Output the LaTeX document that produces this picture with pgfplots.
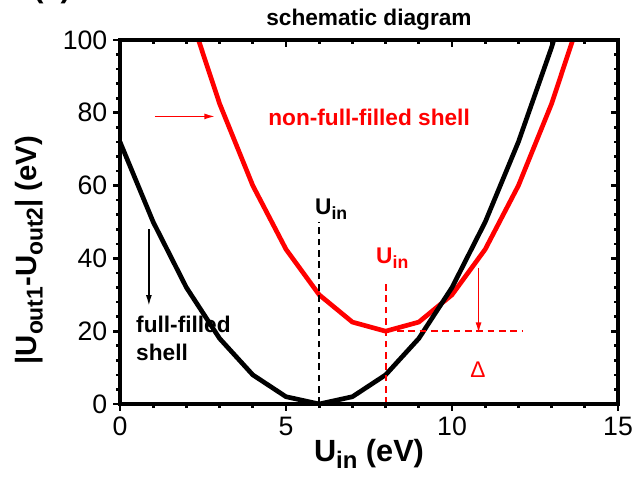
\documentclass[border=0pt]{standalone}
\usepackage{fontspec}
\setmainfont{Liberation Sans}
\usepackage{graphicx}
\usepackage{pgfplots}
\pgfplotsset{compat=1.18}
\usetikzlibrary{calc,arrows.meta}
\definecolor{myred}{RGB}{255,0,0}
\newcommand{\sub}[1]{\raisebox{-0.42ex}{\scalebox{0.78}{#1}}}
\begin{document}
\begin{tikzpicture}
\pgfplotsset{
  common/.style={
    width=373.5pt, height=273pt, scale only axis,
    xmin=0, xmax=15, ymin=0, ymax=100,
    xtick={0,5,10,15}, ytick={0,20,40,60,80,100},
    minor x tick num=4, minor y tick num=4,
    axis line style={line width=3pt},
    major tick length=5pt, minor tick length=3pt,
    every tick/.style={black, line width=2pt},
  }
}
\begin{axis}[common, name=ax, tick align=outside, xtick pos=bottom, ytick pos=left,
  ticklabel style={font=\fontsize{20}{24}\selectfont},
  /pgf/number format/assume math mode=true,
  xticklabel style={yshift=-1pt},
  yticklabel style={xshift=-1pt},
  xlabel={\bfseries U\sub{in} (eV)},
  ylabel={\bfseries |U\sub{out1}-U\sub{out2}| (eV)},
  xlabel style={font=\fontsize{23}{27}\selectfont, yshift=4pt},
  ylabel style={font=\fontsize{22}{26}\selectfont, at={(axis description cs:-0.183,0.423)}, anchor=center},
  title={\bfseries schematic diagram},
  title style={font=\fontsize{17}{20}\selectfont, yshift=-2pt},
  clip=true,
]
\addplot[myred, line width=3.5pt, line join=round] coordinates {
(2,110)(3,82.5)(4,60)(5,42.5)(6,30)(7,22.5)(8,20)(9,22.5)(10,30)(11,42.5)(12,60)(13,82.5)(14,110)};
\addplot[black, line width=3.5pt, line join=round] coordinates {
(0,72)(1,50)(2,32)(3,18)(4,8)(5,2)(6,0)(7,2)(8,8)(9,18)(10,32)(11,50)(12,72)(13,98)(14,128)};
% dashed guides
\addplot[draw=black, line width=1.2pt, dash pattern=on 5pt off 3.5pt] coordinates {(6,0)(6,50)};
\addplot[draw=myred, line width=1.5pt, dash pattern=on 5pt off 3.5pt] coordinates {(8,0)(8,34)};
\addplot[draw=myred, line width=1.3pt, dash pattern=on 5pt off 3.5pt] coordinates {(8,20)(12.1,20)};
% arrows
\addplot[draw=myred, line width=1.1pt, -{Latex[length=8pt,width=4.5pt]}] coordinates {(1.05,79)(2.86,79)};
\addplot[draw=black, line width=1.1pt, -{Latex[length=8pt,width=4.5pt]}] coordinates {(0.87,48)(0.87,27)};
\addplot[draw=myred, line width=1.1pt, -{Latex[length=8pt,width=4.5pt]}] coordinates {(10.8,37.4)(10.8,19.5)};
% texts
\node[anchor=west, text=myred, font=\bfseries\fontsize{17}{20}\selectfont, inner sep=0pt] at (axis cs:4.46,78.6) {non-full-filled shell};
\node[anchor=west, align=left, font=\bfseries\fontsize{17}{21}\selectfont, inner sep=0pt] at (axis cs:0.48,17.9) {full-filled\\shell};
\node[anchor=base west, font=\bfseries\fontsize{17}{20}\selectfont, inner sep=0pt] at (axis cs:5.87,52) {U\sub{in}};
\node[anchor=base west, text=myred, font=\bfseries\fontsize{17}{20}\selectfont, inner sep=0pt] at (axis cs:7.71,38.7) {U\sub{in}};
\node[text=myred, font=\fontsize{17}{20}\selectfont, inner sep=0pt] at (axis cs:10.78,9.3) {Δ};
\end{axis}
\begin{axis}[common, tick align=inside, xtick pos=top, ytick pos=right,
  xticklabels={}, yticklabels={}]
\end{axis}
\node[overlay, anchor=base west, font=\bfseries\fontsize{23}{27}\selectfont, inner sep=0pt] at ($(ax.north west)+(-65.25pt,31.5pt)$) {(a)};
\pgfresetboundingbox
\path[use as bounding box] ($(ax.south west)+(-90pt,-60pt)$) rectangle ($(ax.north east)+(14.25pt,30pt)$);
\end{tikzpicture}
\end{document}
